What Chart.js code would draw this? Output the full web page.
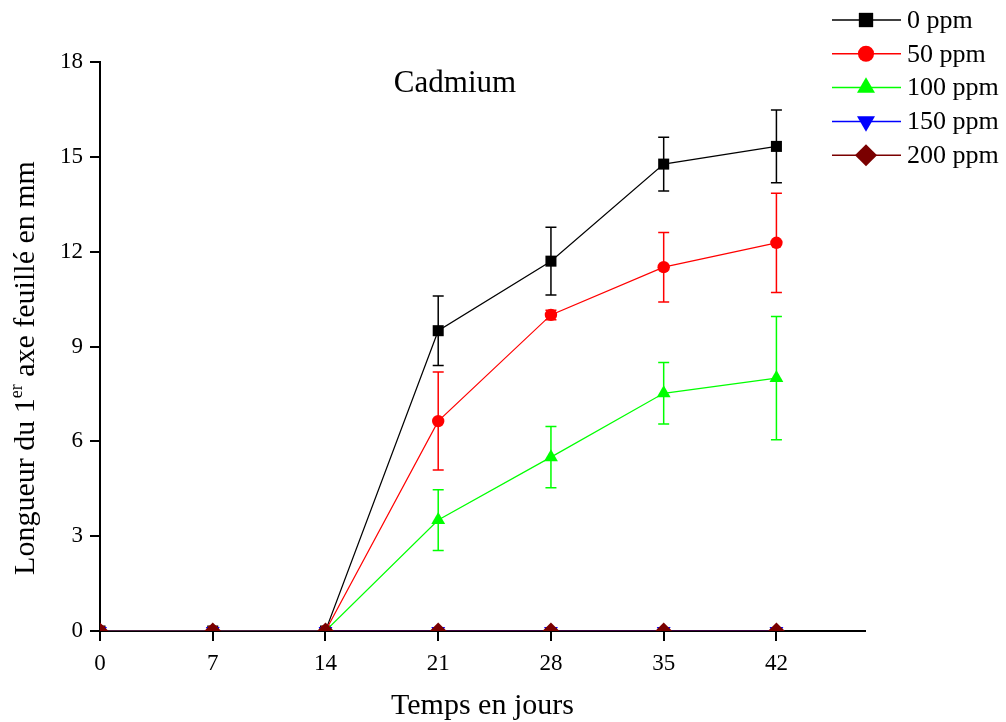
<!DOCTYPE html>
<html>
<head>
<meta charset="utf-8">
<script src="https://cdn.jsdelivr.net/npm/chart.js@4"></script>
<style>
  html, body { margin: 0; padding: 0; background: #fff; }
  #wrap { width: 1006px; height: 722px; }
</style>
</head>
<body>
<div id="wrap"><canvas id="chart" width="1006" height="722"></canvas></div>
<script>
// Donnees
const jours = [0, 7, 14, 21, 28, 35, 42];
const xTicks = [0, 7, 14, 21, 28, 35, 42];
const yTicks = [0, 3, 6, 9, 12, 15, 18];

const ppm0 = [0, 0, 0, 9.5, 11.7, 14.77, 15.33];
const ppm0Err = [0, 0, 0, 1.1, 1.07, 0.85, 1.15];
const ppm50 = [0, 0, 0, 6.64, 10.0, 11.51, 12.28];
const ppm50Err = [0, 0, 0, 1.55, 0.15, 1.1, 1.57];
const ppm100 = [0, 0, 0, 3.51, 5.5, 7.52, 8.0];
const ppm100Err = [0, 0, 0, 0.96, 0.97, 0.97, 1.95];
const ppm150 = [0, 0, 0, 0, 0, 0, 0];
const ppm150Err = [0, 0, 0, 0, 0, 0, 0];
const ppm200 = [0, 0, 0, 0, 0, 0, 0];
const ppm200Err = [0, 0, 0, 0, 0, 0, 0];

const labels = ['0 ppm', '50 ppm', '100 ppm', '150 ppm', '200 ppm'];
const titre = 'Cadmium';

const serif = '"Liberation Serif", "Times New Roman", serif';

function points(vals) {
    return jours.map((j, i) => ({ x: j, y: vals[i] }));
}

function serie(label, vals, errs, color, style, radius, rotation, order) {
    return {
        label: label,
        data: points(vals),
        errors: errs,
        borderColor: color,
        backgroundColor: color,
        borderWidth: 1.2,
        pointStyle: style,
        pointRadius: radius,
        pointRotation: rotation,
        pointBorderWidth: 0,
        pointBackgroundColor: color,
        tension: 0,
        clip: 0,
        order: order
    };
}

// Barres d'erreur
const errorBars = {
    id: 'errorBars',
    beforeDatasetsDraw(chart) {
        const ctx = chart.ctx;
        const xs = chart.scales.x, ys = chart.scales.y;
        const a = chart.chartArea;
        ctx.save();
        ctx.beginPath();
        ctx.rect(a.left, a.top, a.right - a.left, a.bottom - a.top);
        ctx.clip();
        chart.data.datasets.forEach(ds => {
            ctx.strokeStyle = ds.borderColor;
            ctx.lineWidth = 1.5;
            ds.data.forEach((p, i) => {
                const e = ds.errors[i];
                if (!e) return;
                const x = xs.getPixelForValue(p.x);
                const yt = ys.getPixelForValue(p.y + e);
                const yb = ys.getPixelForValue(p.y - e);
                ctx.beginPath();
                ctx.moveTo(x, yt); ctx.lineTo(x, yb);
                ctx.moveTo(x - 5.5, yt); ctx.lineTo(x + 5.5, yt);
                ctx.moveTo(x - 5.5, yb); ctx.lineTo(x + 5.5, yb);
                ctx.stroke();
            });
        });
        ctx.restore();
    }
};

// Titre, titre Y avec exposant, legende
const decor = {
    id: 'decor',
    afterDraw(chart) {
        const ctx = chart.ctx;
        ctx.save();
        ctx.fillStyle = '#000';
        ctx.textBaseline = 'alphabetic';

        ctx.font = '31px ' + serif;
        ctx.textAlign = 'center';
        ctx.fillText(titre, 455, 92);

        // titre de l'axe Y
        const p1 = 'Longueur du 1', sup = 'er', p2 = ' axe feuillé en mm';
        ctx.font = '30px ' + serif;
        const w1 = ctx.measureText(p1).width;
        const w3 = ctx.measureText(p2).width;
        ctx.font = '18px ' + serif;
        const w2 = ctx.measureText(sup).width;
        const total = w1 + w2 + w3;
        ctx.translate(34, 368);
        ctx.rotate(-Math.PI / 2);
        ctx.textAlign = 'left';
        let x0 = -total / 2;
        ctx.font = '30px ' + serif;
        ctx.fillText(p1, x0, 0);
        ctx.font = '18px ' + serif;
        ctx.fillText(sup, x0 + w1, -12);
        ctx.font = '30px ' + serif;
        ctx.fillText(p2, x0 + w1 + w2, 0);
        ctx.setTransform(1, 0, 0, 1, 0, 0);

        // legende
        ctx.textBaseline = 'middle';
        chart.data.datasets.forEach((ds, i) => {
            const y = 20 + i * 33.8;
            ctx.strokeStyle = ds.borderColor;
            ctx.lineWidth = 1.5;
            ctx.beginPath();
            ctx.moveTo(832, y); ctx.lineTo(901, y);
            ctx.stroke();
            ctx.fillStyle = ds.borderColor;
            Chart.helpers.drawPoint(ctx, {
                pointStyle: ds.pointStyle,
                rotation: ds.pointRotation,
                radius: ds.pointRadius * 1.3,
                borderWidth: 0
            }, 866, y);
            ctx.fillStyle = '#000';
            ctx.font = '26px ' + serif;
            ctx.textAlign = 'left';
            ctx.fillText(ds.label, 907, y + 1);
        });
        ctx.restore();
    }
};

const axisColor = '#000';

new Chart(document.getElementById('chart'), {
    type: 'line',
    data: {
        datasets: [
            serie(labels[0], ppm0, ppm0Err, '#000000', 'rect', 7.8, 0, 5),
            serie(labels[1], ppm50, ppm50Err, '#ff0000', 'circle', 6.2, 0, 4),
            serie(labels[2], ppm100, ppm100Err, '#00ff00', 'triangle', 8, 0, 3),
            serie(labels[3], ppm150, ppm150Err, '#0000ff', 'triangle', 8, 180, 2),
            serie(labels[4], ppm200, ppm200Err, '#7a0000', 'rectRot', 8.5, 0, 1)
        ]
    },
    options: {
        responsive: false,
        animation: false,
        layout: { padding: { left: 0, top: 62, right: 141, bottom: 0 } },
        plugins: {
            legend: { display: false },
            tooltip: { enabled: false }
        },
        scales: {
            x: {
                type: 'linear',
                min: 0,
                max: 47.5,
                afterBuildTicks: s => { s.ticks = xTicks.map(v => ({ value: v })); },
                afterFit: s => { s.height = 91; },
                grid: { drawOnChartArea: false, drawTicks: true, tickLength: 10, color: axisColor, lineWidth: 2 },
                border: { display: true, color: axisColor, width: 2 },
                ticks: { color: '#000', font: { family: serif, size: 23 }, padding: 9, maxRotation: 0 },
                title: { display: true, text: 'Temps en jours', color: '#000', font: { family: serif, size: 30, lineHeight: 1.07 }, padding: { top: 0, bottom: 0 } }
            },
            y: {
                min: 0,
                max: 18,
                afterBuildTicks: s => { s.ticks = yTicks.map(v => ({ value: v })); },
                afterFit: s => { s.width = 100; },
                grid: { drawOnChartArea: false, drawTicks: true, tickLength: 10, color: axisColor, lineWidth: 2 },
                border: { display: true, color: axisColor, width: 2 },
                ticks: { color: '#000', font: { family: serif, size: 23 }, padding: 7 }
            }
        }
    },
    plugins: [errorBars, decor]
});
</script>
</body>
</html>
